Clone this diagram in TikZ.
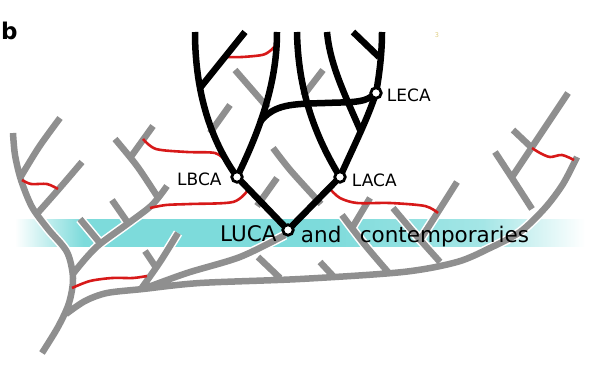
\documentclass[tikz,border=0pt]{standalone}
\usepackage{fontspec}
\usepackage{xcolor}
\usepackage{tikz}
\usetikzlibrary{positioning,backgrounds}
\newfontfamily\labelfont{DejaVu Sans}
\definecolor{limbgray}{RGB}{143,143,143}
\definecolor{bandcyan}{RGB}{125,219,219}
\definecolor{hgtred}{RGB}{215,25,25}
\definecolor{notegold}{RGB}{222,205,130}
\pgfdeclarehorizontalshading{bandfade}{100bp}{color(0bp)=(white); color(25bp)=(white);
  color(31bp)=(bandcyan); color(52bp)=(bandcyan); color(66bp)=(bandcyan!70!white);
  color(75bp)=(white); color(100bp)=(white)}
\tikzset{
  anc/.style={circle,draw=black,line width=2.8pt,fill=white,minimum size=10.5pt,
             inner sep=0pt,outer sep=0pt},
  anclabel/.style={font=\labelfont\fontsize{17}{17}\selectfont,inner sep=1pt},
  bandtext/.style={font=\labelfont\fontsize{21.5}{21.5}\selectfont,inner sep=1pt},
  limb/.style={draw=limbgray,line width=6.5pt},
  limbhalo/.style={draw=white,line width=9.5pt},
  stem/.style={draw=black,line width=6.5pt},
  transfer/.style={draw=hgtred,line width=2.6pt},
}

\begin{document}
\begin{tikzpicture}[x=1pt,y=-1pt]
  \useasboundingbox (0,0) rectangle (593,369);
  \node[anc] (luca) at (288,230) {};
  \node[anc] (lbca) at (237,177) {};
  \node[anc] (laca) at (340,177) {};
  \node[anc] (leca) at (376,93) {};
  \node[anclabel,left=9pt of lbca,yshift=-2pt]  (lbcalab) {LBCA};
  \node[anclabel,right=5.5pt of laca,yshift=-3pt] (lacalab) {LACA};
  \node[anclabel,right=4.5pt of leca,yshift=-2pt] (lecalab) {LECA};
  \node[bandtext,left=5pt of luca,yshift=-4pt]    (lucalab) {LUCA};
  \node[bandtext,right=6.5pt of luca,yshift=-4pt] (andlab) {and};
  \node[bandtext,base right=16pt of andlab]       (contlab) {contemporaries};
  \node[font=\labelfont\bfseries\fontsize{23}{23}\selectfont,anchor=base west,
        inner sep=0pt] (panel) at (1,39) {b};
  \node[font=\labelfont\fontsize{6.5}{6.5}\selectfont,text=notegold,inner sep=0pt]
        (note) at (437,35) {3};
  \begin{pgfonlayer}{background}
    \shade[shading=bandfade] (15,219) rectangle (585,246);
    % gray tree of contemporaries
    \draw[limb,preaction={limbhalo}]
      plot[smooth] coordinates {(42,353) (58,327) (69,303) (73,278) (67,252) (48,229)
                                (32,207) (21,180) (15,155) (13,133)}
      plot[smooth] coordinates {(20,178) (39,147) (60,118)}
      plot[smooth] coordinates {(35,216) (58,190) (82,162)}
      plot[smooth] coordinates {(66,314) (85,301) (107,293) (143,289) (200,283) (300,279)
                                (403,272) (457,262) (490,248) (520,232) (545,208)
                                (563,184) (577,157)}
      plot[smooth] coordinates {(72,275) (86,258) (100,244) (130,222) (152,205) (167,186)}
      (100,243) -- (80,219)
      (128,223) -- (112,200)
      plot[smooth] coordinates {(157,196) (137,166) (115,139)}
      (130,158) -- (153,126)
      plot[smooth] coordinates {(141,289) (160,262) (178,233)}
      (155,266) -- (145,251)
      plot[smooth] coordinates {(143,289) (187,273) (240,257) (285,235)}
      (280,278) -- (258,257)
      (334,277) -- (320,262)
      plot[smooth] coordinates {(388,272) (365,245) (342,215)}
      (352,228) -- (370,198)
      plot[smooth] coordinates {(440,262) (415,234) (393,208)}
      plot[smooth] coordinates {(420,240) (438,212) (457,182)}
      plot[smooth] coordinates {(532,209) (512,178) (495,152)}
      plot[smooth] coordinates {(512,177) (532,147) (568,93)}
      (532,148) -- (513,130)
      (235,70) -- (268,108)
      (230,105) -- (210,133)
      (323,70) -- (303,96)
      plot[smooth] coordinates {(273,148) (291,171) (321,204)}
      (277,178) -- (257,206);
    % gene transfers
    \draw[transfer] plot[smooth] coordinates {(22,180) (31,184) (47,184) (58,189)};
    \draw[transfer] plot[smooth] coordinates {(143,139) (156,149) (187,152) (215,153) (226,161)};
    \draw[transfer] plot[smooth] coordinates {(150,208) (166,205) (190,204) (233,202) (248,190)};
    \draw[transfer] plot[smooth] coordinates {(72,288) (90,281) (112,278) (133,278) (147,276)};
    \draw[transfer] plot[smooth] coordinates {(226,57) (242,57) (262,55) (270,51) (277,44)};
    \draw[transfer] plot[smooth] coordinates {(330,189) (340,198) (357,203) (390,203)
                                              (425,206) (438,213)};
    \draw[transfer] plot[smooth] coordinates {(532,148) (540,153) (550,157) (562,155) (574,160)};
    % ancestor lineages
    \draw[stem] (luca) -- (lbca);
    \draw[stem] (luca) -- (laca);
    \draw[stem] (lbca) .. controls (205,130) and (195,80) .. (195,32);
    \draw[stem] (lbca) .. controls (262,125) and (277,80) .. (277,32);
    \draw[stem] (200,88) -- (245,32);
    \draw[stem] (260,122) .. controls (274,104) and (292,104) .. (325,103)
                .. controls (350,102) and (363,103) .. (leca);
    \draw[stem] (laca) .. controls (315,135) and (298,90) .. (297,32);
    \draw[stem] (laca) .. controls (352,150) and (366,122) .. (leca);
    \draw[stem] (361,132) .. controls (345,95) and (330,65) .. (327,32);
    \draw[stem] (leca) .. controls (380,70) and (382,50) .. (382,32);
    \draw[stem] (379,57) -- (353,32);
  \end{pgfonlayer}
\end{tikzpicture}
\end{document}
